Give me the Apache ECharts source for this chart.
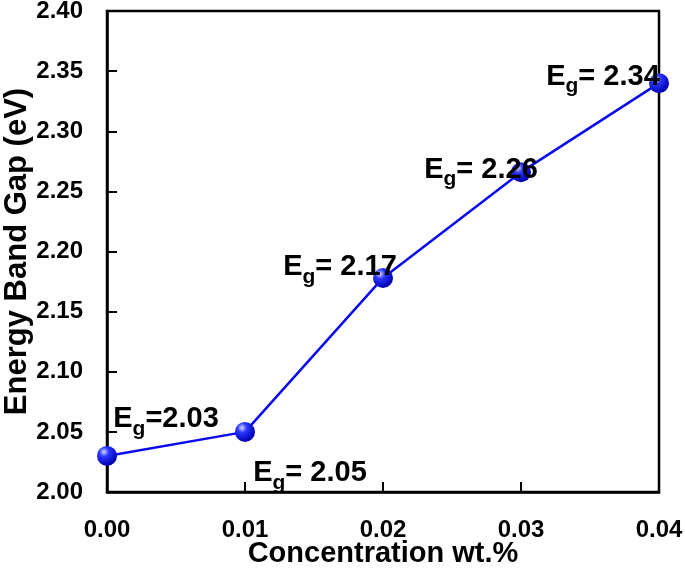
<!DOCTYPE html>
<html>
<head>
<meta charset="utf-8">
<script src="https://cdn.jsdelivr.net/npm/echarts@6/dist/echarts.min.js"></script>
<style>
  html, body { margin: 0; padding: 0; background: #fff; }
  #chart { width: 685px; height: 568px; }
</style>
</head>
<body>
<div id="chart"></div>
<script>
// concentration (wt.%) and measured band gap (eV)
var concentration = [0.00, 0.01, 0.02, 0.03, 0.04];
var bandGap = [2.03, 2.05, 2.178, 2.266, 2.34];
var labelText = ["=2.03", "= 2.05", "= 2.17", "= 2.26", "= 2.34"];
// label offsets from the point, in px
var labelOffsets = [[59, -36], [65, 42], [-43, -10], [-40, -2], [-56, -6]];

var chart = echarts.init(document.getElementById("chart"));

var seriesData = concentration.map(function (c, i) {
  return {
    value: [c, bandGap[i]],
    label: {
      offset: labelOffsets[i],
      formatter: "{e|E}{g|g}{v|" + labelText[i] + "}"
    }
  };
});

var font = "Liberation Sans, Arial, sans-serif";

var option = {
  animation: false,
  grid: {
    left: 107,
    right: 26,
    top: 11,
    bottom: 76,
    outerBoundsMode: "none",
    containLabel: false,
    show: true,
    borderColor: "#000",
    borderWidth: 2.5
  },
  xAxis: {
    type: "value",
    min: 0,
    max: 0.04,
    interval: 0.01,
    name: "Concentration wt.%",
    nameLocation: "middle",
    nameGap: 47,
    nameMoveOverlap: false,
    nameTextStyle: { fontFamily: font, fontWeight: "bold", fontSize: 29, color: "#000" },
    axisLine: { lineStyle: { color: "#000", width: 2.5 } },
    axisTick: { inside: true, length: 10, lineStyle: { color: "#000", width: 2 } },
    splitLine: { show: false },
    axisLabel: {
      margin: 26,
      fontFamily: font,
      fontWeight: "bold",
      fontSize: 24,
      color: "#000",
      formatter: function (v) { return v.toFixed(2); }
    }
  },
  yAxis: {
    type: "value",
    min: 2.0,
    max: 2.4,
    interval: 0.05,
    name: "Energy Band Gap (eV)",
    nameLocation: "middle",
    nameGap: 74,
    nameMoveOverlap: false,
    nameTextStyle: { fontFamily: font, fontWeight: "bold", fontSize: 31, color: "#000" },
    axisLine: { lineStyle: { color: "#000", width: 2.5 } },
    axisTick: { inside: true, length: 10, lineStyle: { color: "#000", width: 2 } },
    splitLine: { show: false },
    axisLabel: {
      margin: 24,
      fontFamily: font,
      fontWeight: "bold",
      fontSize: 24,
      color: "#000",
      formatter: function (v) { return v.toFixed(2); }
    }
  },
  series: [
    {
      type: "line",
      data: seriesData,
      symbol: "circle",
      symbolSize: 20,
      lineStyle: { color: "#0a0af0", width: 2.5 },
      itemStyle: {
        color: new echarts.graphic.RadialGradient(0.35, 0.3, 0.7, [
          { offset: 0, color: "#d6d8ff" },
          { offset: 0.35, color: "#2a35ff" },
          { offset: 1, color: "#0000b0" }
        ]),
        borderWidth: 0
      },
      label: {
        show: true,
        position: "inside",
        fontFamily: font,
        color: "#000",
        rich: {
          e: { fontFamily: font, fontWeight: "bold", fontSize: 29, color: "#000", lineHeight: 30, verticalAlign: "top" },
          g: { fontFamily: font, fontWeight: "bold", fontSize: 21, color: "#000", lineHeight: 22, verticalAlign: "top", padding: [14, 0, 0, 0] },
          v: { fontFamily: font, fontWeight: "bold", fontSize: 29, color: "#000", lineHeight: 30, verticalAlign: "top" }
        }
      },
      z: 3
    }
  ]
};

chart.setOption(option);
window.addEventListener("resize", function () {
  chart.resize();
});
</script>
</body>
</html>
